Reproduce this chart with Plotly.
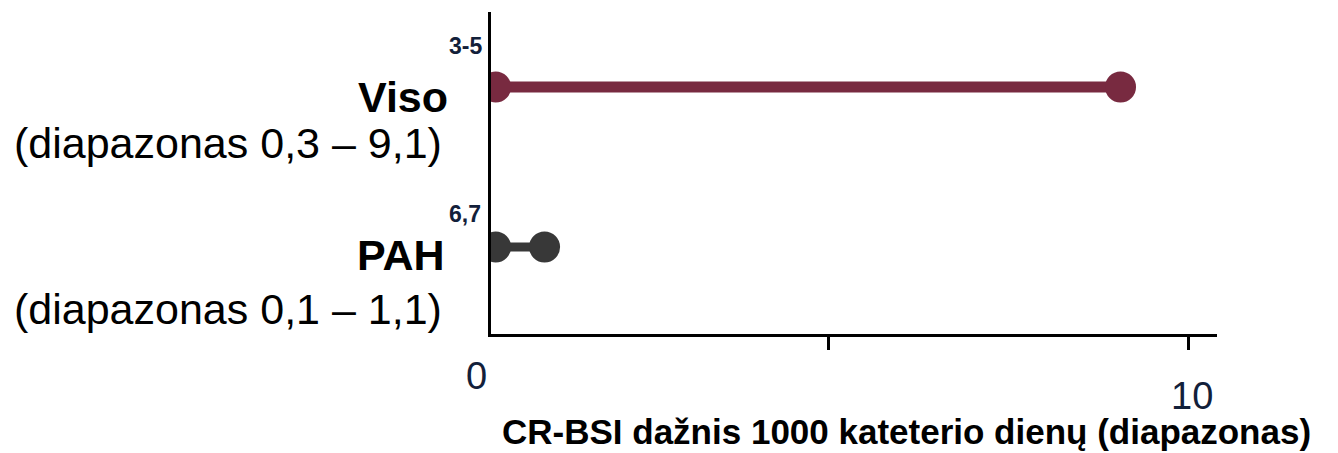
import plotly.graph_objects as go

# ---- data ----
categories = ["Viso", "PAH"]
range_low = [0.37, 0.37]
range_high = [9.05, 1.05]
series_colors = ["#782a40", "#383838"]
line_widths = [11, 9]
label_names = ["Viso", "PAH"]
label_ranges = ["(diapazonas 0,3 – 9,1)", "(diapazonas 0,1 – 1,1)"]
label_refs = ["3-5", "6,7"]
tick_values = [0, 10]
tick_labels = ["0", "10"]
x_title = "CR-BSI dažnis 1000 kateterio dienų (diapazonas)"

FONT = "Liberation Sans, Arial, sans-serif"
NAVY = "#12203a"
X0, X1 = 0.306, 10.39
PL, PW = 491, 726


def xpaper(v):
    return (v - X0) / (X1 - X0)


fig = go.Figure()
for cat, lo, hi, col, lw in zip(categories, range_low, range_high, series_colors, line_widths):
    fig.add_trace(go.Scatter(
        x=[lo, hi], y=[cat, cat], mode="lines+markers",
        line=dict(color=col, width=lw),
        marker=dict(color=col, size=31, line=dict(width=0)),
        showlegend=False, hoverinfo="x+y",
    ))

annotations = []
name_shift = [-9.5, -8.5]
range_shift = [-56, -62]
ref_shift = [41.5, 33]
name_right = [450, 447]
for cat, nm, rg, rf, ns, rs, fs, nr in zip(categories, label_names, label_ranges, label_refs,
                                            name_shift, range_shift, ref_shift, name_right):
    annotations.append(dict(text=f"<b>{nm}</b>", xref="paper", x=(nr - PL) / PW, xanchor="right",
                            yref="y", y=cat, yanchor="middle", yshift=ns, showarrow=False,
                            font=dict(family=FONT, size=43, color="black")))
    annotations.append(dict(text=rg, xref="paper", x=(444 - PL) / PW, xanchor="right",
                            yref="y", y=cat, yanchor="middle", yshift=rs, showarrow=False,
                            font=dict(family=FONT, size=43, color="black")))
    annotations.append(dict(text=f"<b>{rf}</b>", xref="paper", x=(465 - PL) / PW, xanchor="center",
                            yref="y", y=cat, yanchor="middle", yshift=fs, showarrow=False,
                            font=dict(family=FONT, size=23, color=NAVY)))

tick_xshift = [8, 3]
tick_yshift = [-42, -62]
for tv, tl, xs, ys in zip(tick_values, tick_labels, tick_xshift, tick_yshift):
    annotations.append(dict(text=tl, xref="paper", x=xpaper(tv), xanchor="center", xshift=xs,
                            yref="paper", y=0, yanchor="middle", yshift=ys, showarrow=False,
                            font=dict(family=FONT, size=38, color=NAVY)))

annotations.append(dict(text=f"<b>{x_title}</b>", xref="paper", x=(906 - PL) / PW, xanchor="center",
                        yref="paper", y=0, yanchor="middle", yshift=-97, showarrow=False,
                        font=dict(family=FONT, size=35, color="black")))

fig.update_layout(
    width=1338, height=453,
    margin=dict(l=PL, r=1338 - PL - PW, t=12, b=119),
    plot_bgcolor="white", paper_bgcolor="white",
    annotations=annotations,
    xaxis=dict(range=[X0, X1], showgrid=False, zeroline=False,
               showline=True, linecolor="black", linewidth=3,
               ticks="outside", tickvals=[5, 10], ticklen=13, tickwidth=3, tickcolor="black",
               showticklabels=False),
    yaxis=dict(type="category", categoryorder="array", categoryarray=["PAH", "Viso"],
               range=[-0.544, 1.469], showgrid=False, zeroline=False,
               showline=True, linecolor="black", linewidth=3,
               showticklabels=False, ticks=""),
)

fig.write_html("out.html", config={"displayModeBar": False},
               post_script="document.body.style.margin='0';document.body.style.overflow='hidden';")
